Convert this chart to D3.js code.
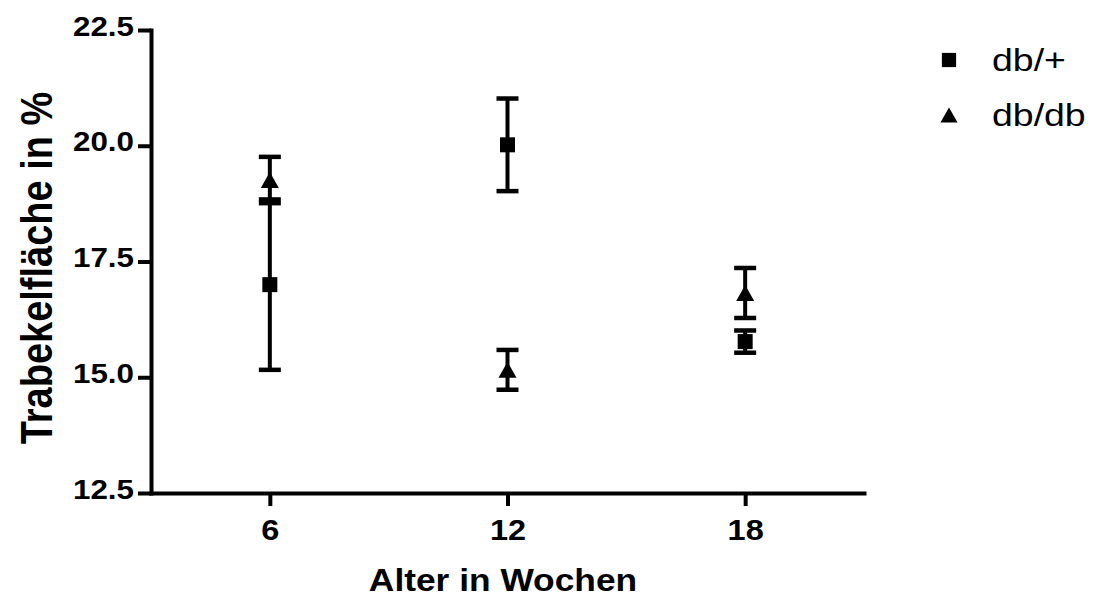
<!DOCTYPE html>
<html>
<head>
<meta charset="utf-8">
<script src="https://cdn.jsdelivr.net/npm/d3@7"></script>
<style>
  body { margin: 0; background: #fff; }
  svg { display: block; font-family: "Liberation Sans", Arial, sans-serif; }
</style>
</head>
<body>
<svg id="chart" width="1098" height="600"></svg>
<script>
/* Trabekelfläche vs Alter */
const weeks = [6, 12, 18]
const xTicks = [6, 12, 18]
const yTicks = [12.5, 15.0, 17.5, 20.0, 22.5]

const dbPlusMean = [17.0, 20.02, 15.77]
const dbPlusSem = [1.84, 1.0, 0.24]
const dbdbMean = [19.26, 15.16, 16.82]
const dbdbSem = [0.5, 0.43, 0.54]

const seriesNames = ["db/+", "db/db"]

const sx = 1.12 // horizontal stretch of the original image

const svg = d3.select("#chart")

const x = d3.scaleLinear()
    .domain([3, 21])
    .range([151, 864])

const y = d3.scaleLinear()
    .domain([12.5, 22.5])
    .range([493, 30])

// axes
const yAxis = svg.append("g")
    .attr("transform", "translate(151,0)")
    .call(d3.axisLeft(y).tickValues(yTicks).tickSize(13).tickSizeOuter(0).tickFormat(d3.format(".1f")))

const xAxis = svg.append("g")
    .attr("transform", "translate(0,493)")
    .call(d3.axisBottom(x).tickValues(xTicks).tickSize(13).tickSizeOuter(0))

svg.selectAll(".domain")
    .attr("stroke", "#000")
    .attr("stroke-width", 4)
    .attr("stroke-linecap", "square")
svg.selectAll(".tick line")
    .attr("stroke", "#000")
    .attr("stroke-width", 4)

yAxis.selectAll(".tick text")
    .attr("x", 0).attr("dy", 0)
    .attr("transform", "translate(-17,5) scale(" + sx + ",1)")
    .style("font-size", "28px").style("font-weight", "bold").attr("fill", "#000")
    .style("font-family", "'Liberation Sans', Arial, sans-serif")

xAxis.selectAll(".tick text")
    .attr("y", 0).attr("dy", 0)
    .attr("transform", "translate(0,47) scale(" + sx + ",1)")
    .style("font-size", "29px").style("font-weight", "bold").attr("fill", "#000")
    .style("font-family", "'Liberation Sans', Arial, sans-serif")

// axis titles
svg.append("text")
    .attr("transform", "translate(503,591) scale(1.14,1)")
    .attr("text-anchor", "middle")
    .attr("font-size", 31)
    .attr("font-weight", "bold")
    .text("Alter in Wochen")

svg.append("text")
    .attr("transform", "translate(52,268) scale(1.18,1) rotate(-90)")
    .attr("text-anchor", "middle")
    .attr("font-size", 38)
    .attr("font-weight", "bold")
    .text("Trabekelfläche in %")

// markers
const squarePath = "M-7.5,-7.5H7.5V7.5H-7.5Z"
const trianglePath = "M0,-8L9,8L-9,8Z"

const series = [
    { name: seriesNames[0], mean: dbPlusMean, sem: dbPlusSem, shape: squarePath },
    { name: seriesNames[1], mean: dbdbMean, sem: dbdbSem, shape: trianglePath }
]

series.forEach(s => {
    const g = svg.append("g")
    const pts = weeks.map((w, i) => ({ w: w, m: s.mean[i], e: s.sem[i] }))

    const bar = g.selectAll("g")
        .data(pts)
        .enter()
        .append("g")

    bar.append("line")
        .attr("x1", d => x(d.w)).attr("x2", d => x(d.w))
        .attr("y1", d => y(d.m + d.e)).attr("y2", d => y(d.m - d.e))
        .attr("stroke", "#000").attr("stroke-width", 4)

    ;[1, -1].forEach(sign => {
        bar.append("line")
            .attr("x1", d => x(d.w) - 11).attr("x2", d => x(d.w) + 11)
            .attr("y1", d => y(d.m + sign * d.e)).attr("y2", d => y(d.m + sign * d.e))
            .attr("stroke", "#000").attr("stroke-width", 4.5)
    })

    bar.append("path")
        .attr("d", s.shape)
        .attr("transform", d => "translate(" + x(d.w) + "," + y(d.m) + ")")
        .attr("fill", "#000")
})

// legend
const legend = svg.append("g")
const legendY = [60, 115]

series.forEach((s, i) => {
    legend.append("path")
        .attr("d", s.shape)
        .attr("transform", "translate(949," + legendY[i] + ") scale(0.95)")
        .attr("fill", "#000")
    legend.append("text")
        .attr("transform", "translate(992," + (legendY[i] + 11) + ") scale(1.17,1)")
        .attr("font-size", 32)
        .text(s.name)
})
</script>
</body>
</html>
